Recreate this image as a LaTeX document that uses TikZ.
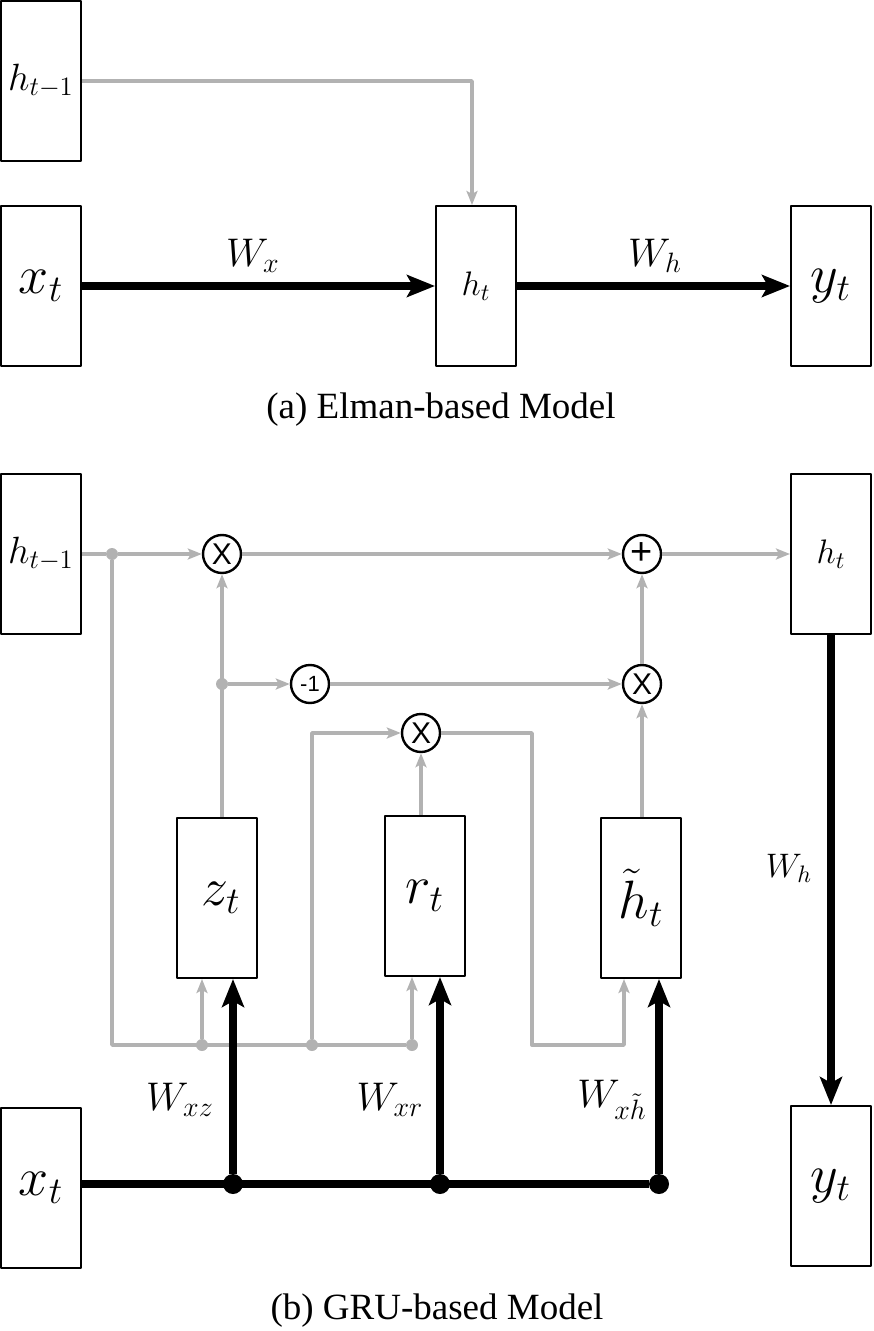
\RequirePackage{fix-cm}
\documentclass[tikz,border=0pt]{standalone}
\usepackage{fontspec}
\setmainfont{Liberation Serif}
\newfontfamily\opfont{Liberation Sans}
\usetikzlibrary{arrows.meta,calc}
\begin{document}
\begin{tikzpicture}[x=0.5pt,y=-0.5pt,line join=round,
	unit/.style={draw,line width=1pt,minimum width=40pt,minimum height=80pt,inner sep=0pt},
	op/.style={draw,circle,line width=1.2pt,minimum size=19pt,inner sep=0pt,font=\opfont\fontsize{15}{15}\selectfont},
	gline/.style={draw=black!30,line width=1.7pt},
	garr/.style={gline,-{Stealth[length=7pt,width=5.5pt,inset=1.5pt]}},
	bline/.style={line width=4pt},
	barr/.style={bline,-{Stealth[length=14pt,width=11pt,inset=3pt]}},
	gdot/.style={circle,fill=black!30,inner sep=0pt,minimum size=6pt},
	bdot/.style={circle,fill=black,inner sep=0pt,minimum size=10pt},
	fbig/.style={font=\fontsize{27}{30}\selectfont},
	fmid/.style={font=\fontsize{19}{21}\selectfont},
	fsml/.style={font=\fontsize{17}{19}\selectfont},
	wlab/.style={font=\fontsize{20}{22}\selectfont},
	caption/.style={font=\fontsize{18.5}{20}\selectfont}]
	\useasboundingbox (0,0) rectangle (873,1331);
	% (a) Elman-based model
	\node[unit,fmid] (hprevA) at (41,81) {$h_{t-1}$};
	\node[unit,fbig] (xA) at (41,286) {$x_t$};
	\node[unit,fsml] (hA) at (476,286) {$h_t$};
	\node[unit,fbig] (yA) at (831,286) {$y_t$};
	\draw[garr] (hprevA.east) -| ([xshift=-2pt]hA.north);
	\draw[barr] (xA) -- (hA);
	\draw[barr] (hA) -- (yA);
	\node[wlab] (lWx) at (253,256) {$W_x$};
	\node[wlab] (lWhA) at (655,256) {$W_h$};
	\node[caption] (capA) at (441,410) {(a) Elman-based Model};
	% (b) GRU-based model
	\node[unit,fmid] (hprevB) at (41,554) {$h_{t-1}$};
	\node[unit,fsml] (hB) at (831,554) {$h_t$};
	\node[unit,fbig] (zB) at (217,898) {\hspace{4pt}$z_t$};
	\node[unit,fbig] (rB) at (425,896) {$r_t$};
	\node[unit,fbig] (hcB) at (641,898) {$\tilde{h}_t$};
	\node[unit,fbig] (xB) at (41,1188) {$x_t$};
	\node[unit,fbig] (yB) at (831,1186) {$y_t$};
	% operators
	\node[op] (mulz) at (222,554) {X};
	\node[op,font=\opfont\fontsize{19}{19}\selectfont] (addh) at (642,554) {+};
	\node[op,font=\opfont\fontsize{11}{11}\selectfont] (neg) at (310,684) {-1};
	\node[op] (mulh) at (642,684) {X};
	\node[op] (mulr) at (421,733) {X};
	% junctions
	\node[gdot] (dh) at (112,554) {};
	\node[gdot] (dz) at (222,684) {};
	\node[gdot] (bz) at (202,1045) {};
	\node[gdot] (bm) at (312,1045) {};
	\node[gdot] (br) at (412,1045) {};
	\coordinate (turn) at (532,1045);
	\coordinate (gh) at (624,1045);
	\node[bdot] (kz) at (233,1184) {};
	\node[bdot] (kr) at (440,1184) {};
	\node[bdot] (kh) at (659,1184) {};
	% gray paths
	\draw[gline] (hprevB.east) -- (dh);
	\draw[garr] (dh) -- (mulz);
	\draw[garr] (mulz) -- (addh);
	\draw[garr] (addh) -- (hB);
	\draw[gline] (dh) |- (br);
	\draw[garr] (bz) -- (bz |- zB.south);
	\draw[garr] (br) -- (br |- rB.south);
	\draw[garr] (bm) |- (mulr);
	\draw[garr] (dz |- zB.north) -- (mulz);
	\draw[garr] (dz) -- (neg);
	\draw[garr] (neg) -- (mulh);
	\draw[garr] (mulr |- rB.north) -- (mulr);
	\draw[garr] (mulr) -| (turn) -- (gh) -- (gh |- hcB.south);
	\draw[garr] (mulh |- hcB.north) -- (mulh);
	\draw[garr] (mulh) -- (addh);
	% black paths
	\draw[bline] (xB.east |- kz) -- (kh);
	\draw[barr] (kz) -- (kz |- zB.south);
	\draw[barr] (kr) -- (kr |- rB.south);
	\draw[barr] (kh) -- (kh |- hcB.south);
	\draw[barr] (hB) -- (yB);
	\node[wlab] (lWxz) at (180,1100) {$W_{xz}$};
	\node[wlab] (lWxr) at (390,1100) {$W_{xr}$};
	\node[wlab] (lWxh) at (612,1100) {$W_{x\tilde{h}}$};
	\node[font=\fontsize{17}{19}\selectfont] (lWhB) at (789,868) {$W_h$};
	\node[caption] (capB) at (437,1311) {(b) GRU-based Model};
\end{tikzpicture}
\end{document}
